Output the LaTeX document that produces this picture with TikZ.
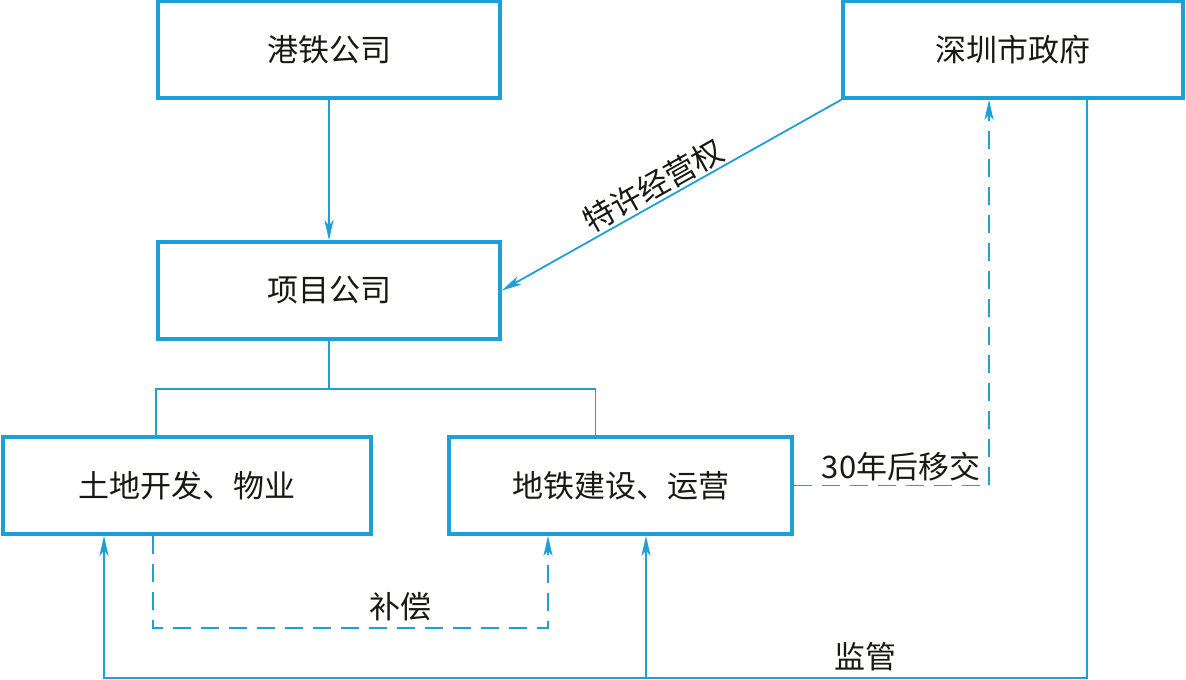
\documentclass[tikz,border=0pt]{standalone}
\usepackage{fontspec}
\newfontfamily\cjk{Noto Sans CJK SC}
\usetikzlibrary{arrows.meta,calc}
\definecolor{lineblue}{RGB}{30,160,215}
\definecolor{txt}{RGB}{25,25,20}
\begin{document}
\begin{tikzpicture}[x=1pt,y=-1pt,
  box/.style={draw=lineblue,line width=3.5pt,minimum height=97pt,inner sep=0pt,
    font=\cjk\fontsize{31}{34}\selectfont,text=txt},
  conn/.style={draw=lineblue,line width=1.8pt},
  arr/.style={conn,-{Stealth[length=20pt,width=9pt,inset=5pt]}},
  dsh/.style={dash pattern=on 18pt off 10pt},
  lbl/.style={font=\cjk\fontsize{31}{34}\selectfont,text=txt,inner sep=1pt}]
\useasboundingbox (0,0) rectangle (1186,680);
% boxes
\node[box,minimum width=342pt] (gt) at (329,49.5) {港铁公司};
\node[box,minimum width=340pt] (sz) at (1013,49.5) {深圳市政府};
\node[box,minimum width=342pt] (xm) at (329,290.5) {项目公司};
\node[box,minimum width=368pt] (td) at (187,485.5) {土地开发、物业};
\node[box,minimum width=343pt] (dt) at (620.5,485.5) {地铁建设、运营};
% 港铁 -> 项目
\draw[arr] (gt.south) -- (xm.north);
% tree
\coordinate (j) at ($(xm.south)+(0,48)$);
\coordinate (tdin) at (td.north -| xm.west);
\coordinate (dtin) at ($(dt.north)+(-25,0)$);
\draw[conn] (xm.south) -- (j);
\draw[conn] (tdin) |- (j) -| (dtin);
% franchise
\draw[arr] (sz.south west) -- node[lbl,sloped,above=1pt,pos=0.53] {特许经营权} (xm.east);
% 30 years transfer
\coordinate (szin) at ($(sz.south)+(-24,0)$);
\coordinate (c30) at (dt.east -| szin);
\draw[arr,dsh] (dt.east) -- node[lbl,above=3pt,pos=0.55] {30年后移交} (c30) -- (szin);
% compensation
\coordinate (bcs) at ($(td.south)+(-34,0)$);
\coordinate (bce) at ($(dt.south)+(-72.5,0)$);
\coordinate (bcy) at (0,628);
\draw[arr,dsh] (bcs) |- (bcy -| bce) -- (bce);
\node[lbl] (bc) at (400,607) {补偿};
% supervision
\coordinate (jgs) at ($(sz.south)+(74,0)$);
\coordinate (jgy) at (0,678);
\coordinate (jgtd) at ($(td.south)+(-83,0)$);
\coordinate (jgdt) at ($(dt.south)+(25.5,0)$);
\draw[arr] (jgs) |- (jgy -| jgtd) -- (jgtd);
\draw[arr] (jgy -| jgdt) -- (jgdt);
\node[lbl] (jg) at (865,657) {监管};
\end{tikzpicture}
\end{document}
